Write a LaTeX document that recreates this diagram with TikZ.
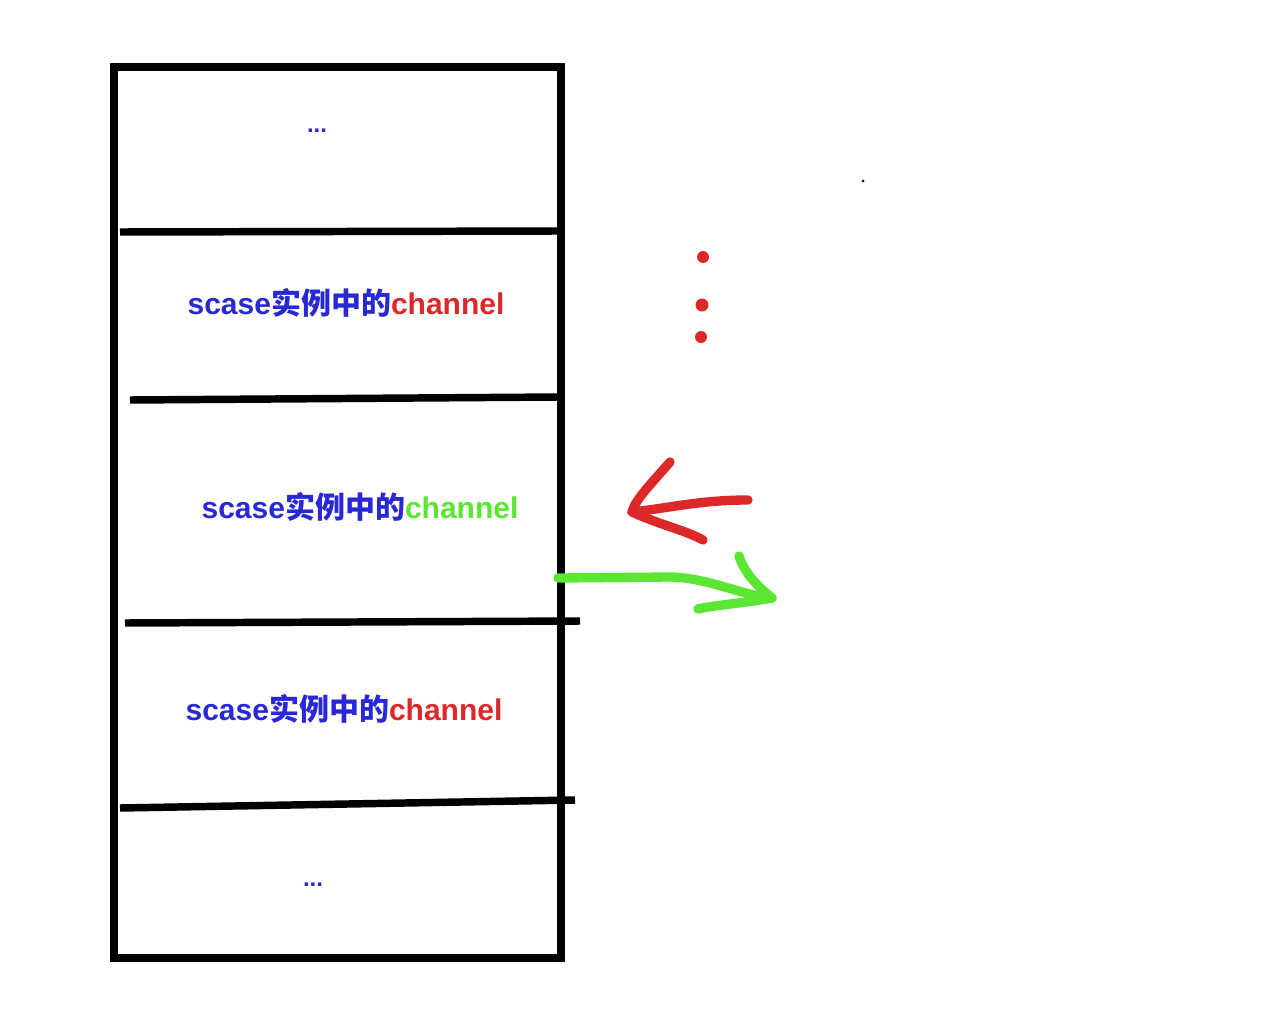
\documentclass[tikz,border=0pt]{standalone}
\usepackage{fontspec}
\setmainfont{Liberation Sans}
\newfontfamily\cjk{Noto Sans CJK SC}
\definecolor{tblue}{RGB}{40,40,215}
\definecolor{tred}{RGB}{220,40,40}
\definecolor{tgreen}{RGB}{90,230,50}
\begin{document}
\begin{tikzpicture}[x=0.75pt,y=-0.75pt,
  sep/.style={line width=5.6pt},
  lbl/.style={font=\fontsize{22.5}{26}\selectfont\bfseries, inner sep=0pt},
  dots/.style={font=\fontsize{18}{20}\selectfont\bfseries, inner sep=0pt},
  stroke/.style={line width=7pt, line cap=round, line join=round}]
\useasboundingbox[fill=white] (0,0) rectangle (1278,1028);
% outer box
\draw[line width=5.4pt] (114,67) rectangle (561,958);
% separators
\draw[sep] (120,232) -- (558,231);
\draw[sep] (130,400) -- (558,397);
\draw[sep] (125,623) -- (580,621);
\draw[sep] (120,808) -- (575,800);
% labels
\node[dots] (t0) at (317,131) {\textcolor{tblue}{...}};
\node[lbl] (t1) at (346,303) {\textcolor{tblue}{scase{\cjk 实例中的}}\textcolor{tred}{channel}};
\node[lbl] (t2) at (360,507) {\textcolor{tblue}{scase{\cjk 实例中的}}\textcolor{tgreen}{channel}};
\node[lbl] (t3) at (344,709) {\textcolor{tblue}{scase{\cjk 实例中的}}\textcolor{tred}{channel}};
\node[dots] (t4) at (313,885) {\textcolor{tblue}{...}};
% red dots
\fill[tred] (703,257) circle (6);
\fill[tred] (702,305) circle (6.5);
\fill[tred] (701,337) circle (6);
\fill[black] (863,181) circle (1.5);
% red arrow
\coordinate (ra) at (748,500);
\coordinate (rb) at (632,512);
\draw[stroke, tred] (ra) .. controls (700,500) and (670,508) .. (rb);
\draw[stroke, tred] (670,462) .. controls (650,485) and (635,500) .. (rb) .. controls (660,525) and (685,530) .. (703,540);
% green arrow
\coordinate (ga) at (558,578);
\coordinate (gb) at (772,598);
\draw[stroke, tgreen] (ga) -- (670,577) .. controls (710,578) and (740,595) .. (gb);
\draw[stroke, tgreen] (739,556) .. controls (745,575) and (760,588) .. (gb) .. controls (745,603) and (715,605) .. (698,609);
\end{tikzpicture}
\end{document}
